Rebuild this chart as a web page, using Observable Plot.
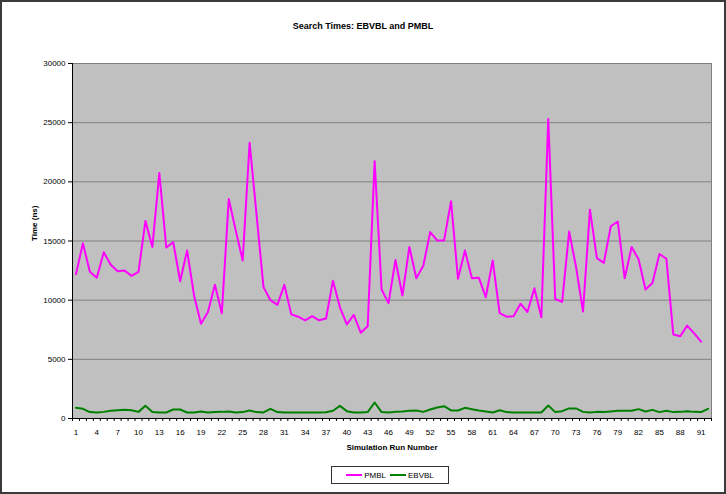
<!DOCTYPE html>
<html><head><meta charset="utf-8">
<script src="https://cdn.jsdelivr.net/npm/d3@7"></script>
<script src="https://cdn.jsdelivr.net/npm/@observablehq/plot@0.6"></script>
<style>
body{margin:0;background:#fff;}
#wrap{position:relative;width:726px;height:494px;font-family:"Liberation Sans",Arial,sans-serif;overflow:hidden;}
#border{position:absolute;left:0;top:0;width:726px;height:494px;box-sizing:border-box;border:2px solid #3a3a3a;pointer-events:none;}
#title{position:absolute;top:21px;left:0;width:726px;text-align:center;font-weight:bold;font-size:9px;color:#000;}
#legend{position:absolute;left:331px;top:466px;width:118px;height:18px;box-sizing:border-box;border:1.5px solid #333;background:#fff;display:flex;align-items:center;justify-content:center;font-size:8px;color:#000;gap:4px;}
#legend .sw{display:inline-block;width:16px;height:2px;vertical-align:middle;margin-right:2px;}
</style></head>
<body>
<div id="wrap">
  <div id="chart"></div>
  <div id="title">Search Times: EBVBL and PMBL</div>
  <div id="legend"></div>
  <div id="border"></div>
</div>
<script>
const seriesNames = ["PMBL", "EBVBL"];
const seriesColors = ["#ff00ff", "#008000"];
const pmbl = [12200,14800,12400,11900,14050,13000,12450,12500,12050,12400,
  16700,14500,20750,14450,14900,11600,14200,10400,8000,9000,
  11300,8900,18550,15900,13350,23300,17200,11100,10000,9600,
  11300,8800,8600,8300,8650,8300,8450,11650,9400,7950,
  8750,7250,7800,21750,10900,9750,13400,10400,14500,11850,
  12900,15750,15050,15050,18350,11800,14200,11850,11900,10250,
  13350,8900,8600,8650,9700,9000,11000,8550,25300,10100,
  9850,15800,12800,9050,17650,13550,13150,16250,16650,11850,
  14500,13450,10900,11450,13900,13500,7100,6950,7850,7200,
  6500];
const ebvbl = [900,820,540,510,560,650,700,730,700,560,
  1070,540,510,510,760,760,510,510,590,510,
  540,560,600,510,540,680,540,510,820,540,
  510,510,510,510,510,510,520,650,1070,620,
  510,510,540,1350,540,510,560,590,650,680,
  560,760,930,1040,680,680,900,790,680,590,
  510,700,540,510,510,510,510,510,1100,540,
  620,850,850,560,510,560,540,590,650,650,
  650,790,590,730,540,650,540,560,620,560,
  540,820];
const xTickLabels = [1,4,7,10,13,16,19,22,25,28,31,34,37,40,43,46,49,52,55,58,61,64,67,70,73,76,79,82,85,88,91];
const yTicks = [0,5000,10000,15000,20000,25000,30000];
const runCount = 92;

const rows = [];
pmbl.forEach((v, i) => rows.push({run: i + 1, value: v, series: "PMBL"}));
ebvbl.forEach((v, i) => rows.push({run: i + 1, value: v, series: "EBVBL"}));
const boundaries = d3.range(0, runCount + 1).map(k => k + 0.5);

const chart = Plot.plot({
  width: 726,
  height: 494,
  marginTop: 63,
  marginBottom: 76,
  marginLeft: 72,
  marginRight: 15,
  style: {fontFamily: "'Liberation Sans', Arial, sans-serif", background: "transparent", color: "#000"},
  x: {domain: [0.5, runCount + 0.5]},
  y: {domain: [0, 30000]},
  color: {domain: seriesNames, range: seriesColors},
  marks: [
    Plot.frame({fill: "#c0c0c0", stroke: "#808080"}),
    Plot.gridY(yTicks, {stroke: "#808080", strokeOpacity: 1}),
    Plot.line(rows, {x: "run", y: "value", z: "series", stroke: "series", strokeWidth: 2}),
    Plot.ruleX([0.5], {stroke: "#000"}),
    Plot.ruleY([0], {stroke: "#000"}),
    Plot.axisY(yTicks, {tickSize: 4, tickPadding: 3, fontSize: 8, label: null, tickFormat: d => String(d)}),
    Plot.axisX(boundaries, {tickSize: 3, tickFormat: () => "", label: null}),
    Plot.axisX(xTickLabels, {tickSize: 0, tickPadding: 11, fontSize: 8, label: null}),
    Plot.text(["Time (ns)"], {frameAnchor: "left", dx: -38, rotate: -90, fontWeight: "bold", fontSize: 8}),
    Plot.text(["Simulation Run Number"], {frameAnchor: "bottom", dy: 31, fontWeight: "bold", fontSize: 8})
  ]
});
document.getElementById("chart").appendChild(chart);

const legend = document.getElementById("legend");
seriesNames.forEach((name, i) => {
  const item = document.createElement("span");
  item.innerHTML = `<span class="sw" style="background:${seriesColors[i]}"></span>${name}`;
  legend.appendChild(item);
});
</script>
</body></html>
